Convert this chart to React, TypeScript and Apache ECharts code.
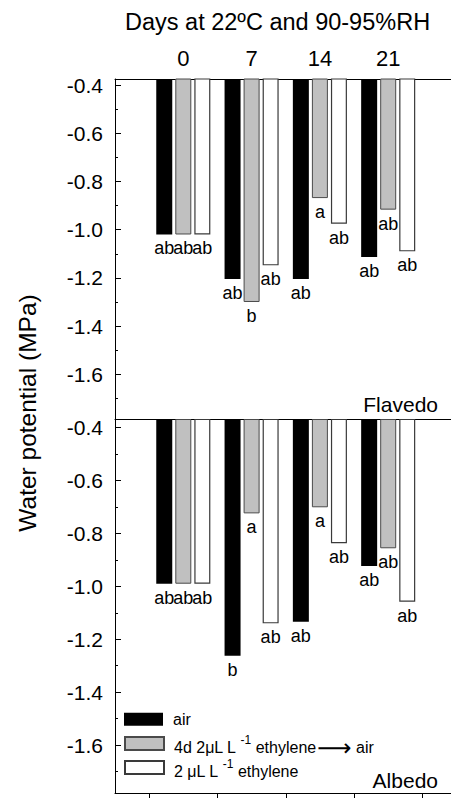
import React, { useEffect, useRef } from "react";
import * as echarts from "echarts";

// ---- data ----
const days = [0, 7, 14, 21];
const treatments = ["air", "4d 2μL L-1 ethylene → air", "2 μL L-1 ethylene"];

// Flavedo (upper panel), water potential in MPa
const flavedoAir = [-1.02, -1.205, -1.205, -1.113];
const flavedoEthThenAir = [-1.02, -1.3, -0.869, -0.917];
const flavedoEthylene = [-1.02, -1.148, -0.975, -1.09];
const flavedoAirLetters = ["ab", "ab", "ab", "ab"];
const flavedoEthThenAirLetters = ["ab", "b", "a", "ab"];
const flavedoEthyleneLetters = ["ab", "ab", "ab", "ab"];

// Albedo (lower panel), water potential in MPa
const albedoAir = [-0.99, -1.262, -1.134, -0.923];
const albedoEthThenAir = [-0.99, -0.724, -0.701, -0.856];
const albedoEthylene = [-0.99, -1.14, -0.837, -1.058];
const albedoAirLetters = ["ab", "b", "ab", "ab"];
const albedoEthThenAirLetters = ["ab", "a", "a", "ab"];
const albedoEthyleneLetters = ["ab", "ab", "ab", "ab"];

// axis ranges (MPa)
const flavedoRange = [-1.7875, -0.375];
const albedoRange = [-1.7815, -0.369];

const FONT = '"Liberation Sans", Arial, Helvetica, sans-serif';

// half-step category positions, from one step before the first day to one after the last
const axisDays: number[] = [];
for (let d = days[0] - 7; d <= days[days.length - 1] + 7; d += 3.5) axisDays.push(d);
const categories = axisDays.map((d) => String(d));

function seriesData(vals: number[], letters: string[]) {
  return axisDays.map((d) => {
    const i = days.indexOf(d);
    if (i < 0) return null;
    return { value: vals[i], label: { formatter: letters[i] } };
  });
}

const styles = [
  { color: "#000000", borderColor: "#000000", borderWidth: 0 },
  { color: "#c0c0c0", borderColor: "#4a4a4a", borderWidth: 1 },
  { color: "#ffffff", borderColor: "#3a3a3a", borderWidth: 1.2 },
];

function bar(name: string, vals: number[], letters: string[], panel: number, style: any) {
  return {
    type: "bar",
    name,
    xAxisIndex: panel === 0 ? 0 : 2,
    yAxisIndex: panel,
    barWidth: 16,
    barGap: "19%",
    clip: true,
    itemStyle: style,
    emphasis: { disabled: true },
    label: {
      show: true,
      position: "bottom",
      distance: 5,
      fontSize: 18,
      fontFamily: FONT,
      color: "#000",
    },
    data: seriesData(vals, letters),
  };
}

function yAxis(panel: number, range: number[]) {
  return {
    type: "value",
    gridIndex: panel,
    min: range[0],
    max: range[1],
    splitNumber: 7,
    axisLine: { show: true, lineStyle: { color: "#000", width: 1 } },
    axisTick: { show: true, inside: true, length: 6, lineStyle: { color: "#000" } },
    minorTick: { show: true, splitNumber: 2, length: 3, lineStyle: { color: "#000" } },
    splitLine: { show: false },
    minorSplitLine: { show: false },
    axisLabel: {
      show: true,
      fontSize: 21,
      fontFamily: FONT,
      color: "#000",
      margin: 12,
      showMinLabel: false,
      showMaxLabel: false,
      formatter: (v: number) => v.toFixed(1),
    },
  };
}

const richMain = { fontSize: 16, lineHeight: 16, fontFamily: FONT, color: "#000", padding: [8, 0, 0, 0] };
const richRich = {
  f: { ...richMain, padding: [8, 0, 0, 5] },
  m: richMain,
  s: { fontSize: 12, lineHeight: 12, fontFamily: FONT, color: "#000", padding: [2, 0, 10, 4] },
  a: { fontSize: 24, lineHeight: 16, fontFamily: '"DejaVu Sans", sans-serif', color: "#000", padding: [8, 0, 0, 1] },
};

function legend(name: string, top: number, fmt: string, rich: any) {
  return {
    data: [name],
    left: 124,
    top,
    padding: 0,
    orient: "vertical",
    icon: "rect",
    itemWidth: 39,
    itemHeight: 13,
    selectedMode: false,
    formatter: () => fmt,
    textStyle: { rich },
  };
}

export default function App() {
  const ref = useRef<HTMLDivElement>(null);
  useEffect(() => {
    if (!ref.current) return;
    const chart = echarts.init(ref.current, null, { renderer: "svg" });
    const option: any = {
      animation: false,
      textStyle: { fontFamily: FONT },
      title: {
        text: "Days at 22ºC and 90-95%RH",
        left: 125,
        top: 10,
        padding: 0,
        textStyle: { fontSize: 23.5, fontWeight: "normal", color: "#000", fontFamily: FONT },
      },
      grid: [
        { left: 115, right: -5.5, top: 79, height: 340.5, outerBoundsMode: "none", containLabel: false },
        { left: 115, right: -5.5, top: 419.5, height: 373.5, outerBoundsMode: "none", containLabel: false },
      ],
      xAxis: [
        {
          type: "category",
          gridIndex: 0,
          position: "top",
          data: categories,
          boundaryGap: false,
          axisLine: { show: true, lineStyle: { color: "#000", width: 1 } },
          axisTick: { show: false },
          splitLine: { show: false },
          axisLabel: {
            show: true,
            interval: 0,
            fontSize: 22,
            fontFamily: FONT,
            color: "#000",
            margin: 10,
            formatter: (v: string) => (days.includes(Number(v)) ? v : ""),
          },
        },
        {
          type: "category",
          gridIndex: 1,
          position: "top",
          data: categories,
          boundaryGap: false,
          axisLine: { show: true, lineStyle: { color: "#000", width: 1 } },
          axisTick: { show: false },
          axisLabel: { show: false },
          splitLine: { show: false },
        },
        {
          type: "category",
          gridIndex: 1,
          position: "bottom",
          data: categories,
          boundaryGap: false,
          axisLine: { show: true, lineStyle: { color: "#000", width: 1 } },
          axisTick: {
            show: true,
            inside: false,
            length: 5,
            interval: (i: number) => i % 2 === 1,
            lineStyle: { color: "#000" },
          },
          axisLabel: { show: false },
          splitLine: { show: false },
        },
      ],
      yAxis: [yAxis(0, flavedoRange), yAxis(1, albedoRange)],
      legend: [
        legend(treatments[0], 711.3, "{f|air}", {
          f: { fontSize: 16, lineHeight: 16, fontFamily: FONT, color: "#000", padding: [0, 0, 0, 5] },
        }),
        legend(treatments[1], 727.5, "{f|4d 2μL L}{s|-1}{m| ethylene}{a|⟶}{m| air}", richRich),
        legend(treatments[2], 755.5, "{f|2 μL L}{s|-1}{m| ethylene}", richRich),
      ],
      graphic: [
        {
          type: "text",
          x: 438,
          y: 404,
          style: { text: "Flavedo", fontSize: 21, fontFamily: FONT, fill: "#000", align: "right", verticalAlign: "middle" },
        },
        {
          type: "text",
          x: 438,
          y: 780,
          style: { text: "Albedo", fontSize: 21, fontFamily: FONT, fill: "#000", align: "right", verticalAlign: "middle" },
        },
        {
          type: "text",
          x: 27.5,
          y: 413,
          rotation: Math.PI / 2,
          style: {
            text: "Water potential (MPa)",
            fontSize: 24.5,
            fontFamily: FONT,
            fill: "#000",
            align: "center",
            verticalAlign: "middle",
          },
        },
      ],
      series: [
        bar(treatments[0], flavedoAir, flavedoAirLetters, 0, styles[0]),
        bar(treatments[1], flavedoEthThenAir, flavedoEthThenAirLetters, 0, styles[1]),
        bar(treatments[2], flavedoEthylene, flavedoEthyleneLetters, 0, styles[2]),
        bar(treatments[0], albedoAir, albedoAirLetters, 1, styles[0]),
        bar(treatments[1], albedoEthThenAir, albedoEthThenAirLetters, 1, styles[1]),
        bar(treatments[2], albedoEthylene, albedoEthyleneLetters, 1, styles[2]),
      ],
    };
    chart.setOption(option);
    return () => chart.dispose();
  }, []);
  return (
    <div
      ref={ref}
      style={{ position: "absolute", left: 0, top: 0, width: 451, height: 798, background: "#fff" }}
    />
  );
}
